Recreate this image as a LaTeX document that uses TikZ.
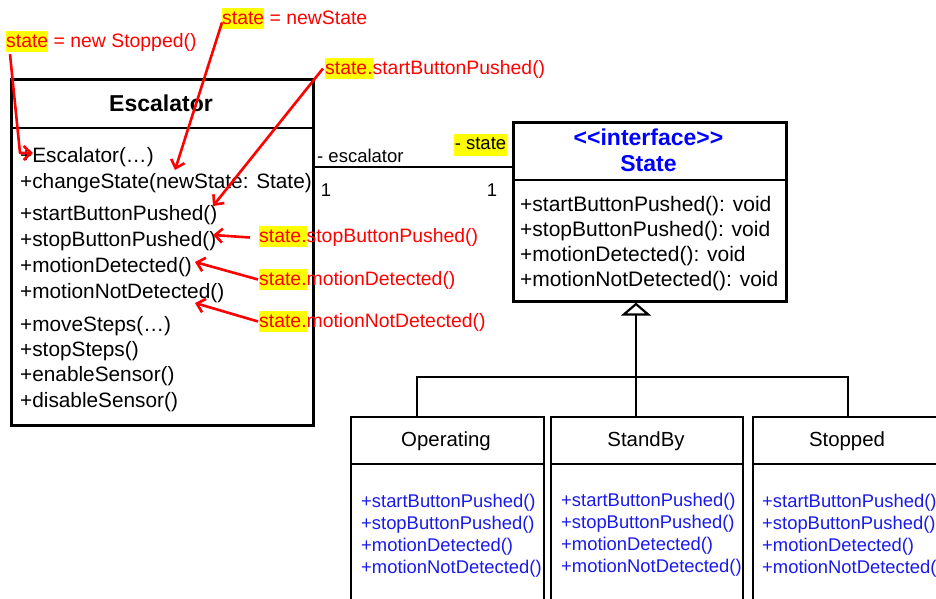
\documentclass[tikz,border=0pt]{standalone}
\usepackage{fontspec}
\setmainfont{Liberation Sans}
\usetikzlibrary{arrows.meta}
\definecolor{annred}{RGB}{255,0,0}
\definecolor{hlyellow}{RGB}{255,255,0}
\definecolor{ifblue}{RGB}{0,0,255}
\definecolor{opblue}{RGB}{25,25,235}
% yellow marker behind a word of an annotation
\newcommand\hlmark[1]{{\setlength{\fboxsep}{0pt}\colorbox{hlyellow}{\rule[-5pt]{0pt}{21pt}#1}}}

\begin{document}
\begin{tikzpicture}[x=1pt,y=-1pt,
  box/.style={draw, line width=2.6pt, anchor=north west, inner sep=0pt},
  subbox/.style={draw, line width=2.2pt, anchor=north west, inner sep=0pt,
    minimum width=193pt, minimum height=200pt},
  sep/.style={line width=2.6pt},
  subsep/.style={line width=2.2pt},
  meth/.style={anchor=base west, inner sep=0pt, font=\fontsize{20.8}{24}\selectfont},
  smeth/.style={anchor=base west, inner sep=0pt, font=\fontsize{21}{24}\selectfont},
  opmeth/.style={anchor=base west, inner sep=0pt, text=opblue, font=\fontsize{18.4}{21}\selectfont},
  title/.style={inner sep=0pt, font=\bfseries\fontsize{23}{26}\selectfont},
  subtitle/.style={inner sep=0pt, font=\fontsize{20.4}{24}\selectfont},
  small/.style={inner sep=0pt, font=\fontsize{18.5}{22}\selectfont},
  note/.style={anchor=base west, inner sep=0pt, text=annred, font=\fontsize{19.4}{23}\selectfont},
  notearrow/.style={draw=annred, line width=2.6pt, line join=round,
    -{Straight Barb[length=7.5pt, width=14pt]}},
  tree/.style={line width=2.2pt},
]
\path[use as bounding box, clip] (0,0) rectangle (936,598);

% ---------- Escalator class ----------
\node[box, minimum width=302pt, minimum height=346pt] (esc) at (10,78) {};
\coordinate (eschd) at (0,128);
\draw[sep] (esc.west |- eschd) -- (esc.east |- eschd);
\node[title] (esct) at (161,103) {Escalator};
\node[meth] (e1) at (20,162) {+Escalator(…)};
\node[meth] (e2) at (20,188) {+changeState(newState: State)};
\node[meth] (e3) at (20,220) {+startButtonPushed()};
\node[meth] (e4) at (20,246) {+stopButtonPushed()};
\node[meth] (e5) at (20,272) {+motionDetected()};
\node[meth] (e6) at (20,298) {+motionNotDetected()};
\node[meth] (e7) at (20,331) {+moveSteps(…)};
\node[meth] (e8) at (20,356) {+stopSteps()};
\node[meth] (e9) at (20,381) {+enableSensor()};
\node[meth] (e10) at (20,407) {+disableSensor()};

% ---------- State interface ----------
\node[box, minimum width=273pt, minimum height=179pt] (st) at (512,121) {};
\coordinate (sthd) at (0,180);
\draw[sep] (st.west |- sthd) -- (st.east |- sthd);
\node[title, text=ifblue] (stster) at (648.5,137) {{<}{<}interface{>}{>}};
\node[title, text=ifblue] (stname) at (648.5,164) {State};
\node[smeth] (s1) at (520,211) {+startButtonPushed(): void};
\node[smeth] (s2) at (520,236) {+stopButtonPushed(): void};
\node[smeth] (s3) at (520,261) {+motionDetected(): void};
\node[smeth] (s4) at (520,286) {+motionNotDetected(): void};

% ---------- association Escalator -- State ----------
\coordinate (asy) at (0,167);
\draw[line width=2.2pt] (esc.east |- asy) -- (st.west |- asy);
\node[small, anchor=west] (rolee) at (317,156) {- escalator};
\node[small, anchor=east, fill=hlyellow, inner xsep=0.6pt, inner ysep=1.5pt,
  text height=14pt, text depth=4.5pt] (roles) at (507,145) {- state};
\node[small] (mule) at (326,190) {1};
\node[small] (muls) at (492,190) {1};

% ---------- concrete states ----------
\node[subbox] (op) at (350,416) {};
\node[subbox, minimum width=192pt] (sb) at (550,416) {};
\node[subbox] (sp) at (752,416) {};
\coordinate (subhd) at (0,464);
\foreach \b in {op,sb,sp}
  \draw[subsep] (\b.west |- subhd) -- (\b.east |- subhd);
\node[subtitle] (opn) at (446,441) {Operating};
\node[subtitle] (sbn) at (646,441) {StandBy};
\node[subtitle] (spn) at (847,441) {Stopped};

\node[opmeth] (o1) at (361,507) {+startButtonPushed()};
\node[opmeth] (o2) at (361,529) {+stopButtonPushed()};
\node[opmeth] (o3) at (361,551) {+motionDetected()};
\node[opmeth] (o4) at (361,573) {+motionNotDetected()};
\node[opmeth] (b1) at (561,506) {+startButtonPushed()};
\node[opmeth] (b2) at (561,528) {+stopButtonPushed()};
\node[opmeth] (b3) at (561,550) {+motionDetected()};
\node[opmeth] (b4) at (561,572) {+motionNotDetected()};
\node[opmeth] (p1) at (762,507) {+startButtonPushed()};
\node[opmeth] (p2) at (762,529) {+stopButtonPushed()};
\node[opmeth] (p3) at (762,551) {+motionDetected()};
\node[opmeth] (p4) at (762,573) {+motionNotDetected()};

% ---------- generalization tree ----------
\coordinate (bus) at (0,377);
\coordinate (opx) at (417,0);
\coordinate (sbx) at (636,0);
\coordinate (spx) at (848,0);
\draw[tree] (opx |- op.north) -- (opx |- bus) -- (spx |- bus) -- (spx |- sp.north);
\draw[tree] (sbx |- sb.north) -- (sbx |- bus);
\draw[tree, -{Triangle[open, length=13pt, width=30pt, line width=2.2pt]}]
  (sbx |- bus) -- (sbx |- st.south);

% ---------- annotations ----------
\node[note] (n1) at (6,47) {\hlmark{state} = new Stopped()};
\node[note] (n2) at (222,24) {\hlmark{state} = newState};
\node[note] (n3) at (325,74) {\hlmark{state.}startButtonPushed()};
\node[note] (n4) at (259,242) {\hlmark{state.}stopButtonPushed()};
\node[note] (n5) at (259,285) {\hlmark{state.}motionDetected()};
\node[note] (n6) at (259,327) {\hlmark{state.}motionNotDetected()};

\coordinate (t1) at (33,153);
\coordinate (t2) at (175,170);
\coordinate (t3) at (213,206);
\coordinate (t4) at (213,235);
\coordinate (t5) at (195,262);
\coordinate (t6) at (195,303);
\draw[notearrow] ([xshift=4pt,yshift=-2pt]n1.south west) -- (20,153) -- (t1);
\draw[notearrow] ([yshift=-4pt]n2.west) -- (t2);
\draw[notearrow] ([xshift=-2pt]n3.west) -- (t3);
\draw[notearrow] ([xshift=-9pt,yshift=-1pt]n4.west) -- (t4);
\draw[notearrow] ([xshift=-1pt]n5.west) -- (t5);
\draw[notearrow] ([xshift=-1pt]n6.west) -- (t6);
\end{tikzpicture}
\end{document}
